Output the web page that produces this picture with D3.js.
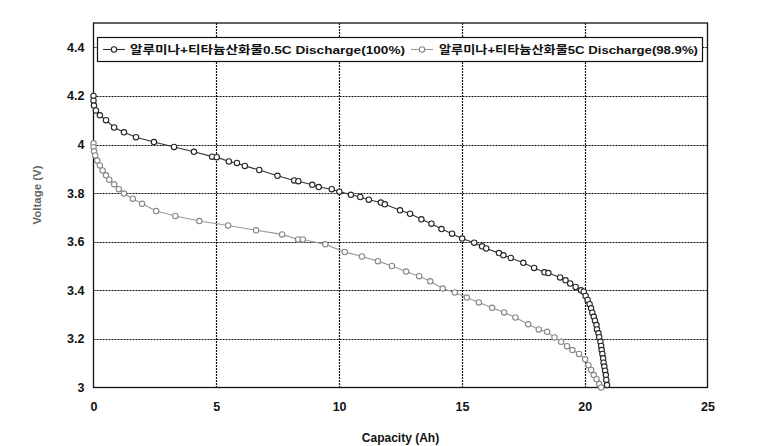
<!DOCTYPE html>
<html><head><meta charset="utf-8">
<script src="https://cdn.jsdelivr.net/npm/d3@7"></script>
<style>
html,body{margin:0;padding:0;background:#fff;}
text{font-family:"Liberation Sans",Arial,"Noto Sans CJK KR",sans-serif;}
</style></head>
<body><svg id="c" width="771" height="446"></svg>
<script>
// ---- data ----
const seriesNames = ["알루미나+티타늄산화물0.5C Discharge(100%)", "알루미나+티타늄산화물5C Discharge(98.9%)"];
const xTicks = [0, 5, 10, 15, 20, 25];
const yTicks = [3, 3.2, 3.4, 3.6, 3.8, 4, 4.2, 4.4];
const yTickLabels = ["3", "3.2", "3.4", "3.6", "3.8", "4", "4.2", "4.4"];
// 0.5C discharge: capacity (Ah)
const cap05 = [0,0,0.02,0.10,0.26,0.51,0.84,1.24,1.73,2.46,3.28,4.09,4.83,5.02,5.51,5.84,6.16,6.75,7.49,8.17,8.34,8.91,9.17,9.70,10.01,10.48,10.86,11.21,11.70,11.86,12.48,12.89,13.35,13.76,14.17,14.60,15.01,15.50,15.82,15.99,16.51,16.69,16.99,17.50,17.94,18.36,18.52,19.00,19.22,19.41,19.63,19.85,19.96,20.04,20.12,20.20,20.26,20.31,20.37,20.42,20.48,20.50,20.56,20.59,20.64,20.67,20.69,20.72,20.75,20.77,20.80,20.83,20.86,20.88,20.91];
// 0.5C discharge: voltage (V)
const volt05 = [4.20,4.18,4.16,4.14,4.12,4.10,4.07,4.05,4.03,4.01,3.99,3.97,3.95,3.948,3.93,3.924,3.912,3.895,3.871,3.852,3.849,3.834,3.825,3.816,3.806,3.793,3.784,3.773,3.761,3.754,3.729,3.715,3.692,3.674,3.652,3.633,3.613,3.596,3.581,3.572,3.553,3.544,3.533,3.513,3.492,3.474,3.471,3.453,3.441,3.428,3.414,3.400,3.394,3.377,3.360,3.343,3.326,3.308,3.291,3.275,3.257,3.239,3.223,3.207,3.188,3.171,3.154,3.138,3.120,3.102,3.086,3.069,3.051,3.031,3.010];
// 5C discharge: capacity (Ah)
const cap5 = [0,0,0.02,0.07,0.15,0.26,0.37,0.51,0.64,0.84,1.03,1.24,1.60,1.98,2.55,3.33,4.31,5.48,6.62,7.68,8.33,8.52,9.44,10.23,10.93,11.58,12.15,12.73,13.26,13.71,14.22,14.71,15.20,15.69,16.23,16.72,17.18,17.70,18.13,18.47,18.77,19.04,19.28,19.50,19.77,20.02,20.15,20.26,20.37,20.48,20.59,20.67];
// 5C discharge: voltage (V)
const volt5 = [4.005,3.989,3.972,3.955,3.934,3.914,3.893,3.873,3.855,3.836,3.816,3.798,3.777,3.756,3.726,3.706,3.685,3.667,3.647,3.630,3.609,3.609,3.589,3.558,3.539,3.520,3.500,3.477,3.458,3.437,3.407,3.391,3.370,3.350,3.328,3.309,3.288,3.260,3.239,3.229,3.206,3.188,3.170,3.154,3.138,3.116,3.092,3.072,3.051,3.034,3.014,3.0];

// ---- chart ----
const svg = d3.select("#c");
const L = 93.5, R = 707.5, T = 23, B = 387.5;
const x = d3.scaleLinear().domain([0, 25]).range([L, R]);
const y = d3.scaleLinear().domain([3, 4.5]).range([B, T]);

const series = [
  {name: seriesNames[0], pts: cap05.map((c,i)=>[c, volt05[i]]), stroke: "#262626", line: "#333"},
  {name: seriesNames[1], pts: cap5.map((c,i)=>[c, volt5[i]]), stroke: "#888", line: "#999"}
];

// gridlines
svg.append("g").selectAll("line.h").data(yTicks.filter(v=>v>3)).join("line")
  .attr("x1", L).attr("x2", R).attr("y1", d=>Math.round(y(d))+0.5).attr("y2", d=>Math.round(y(d))+0.5)
  .attr("stroke", "#111").attr("stroke-width", 1.2).attr("stroke-dasharray", "2,1");
svg.append("g").selectAll("line.v").data(xTicks.filter(v=>v>0 && v<25)).join("line")
  .attr("y1", T).attr("y2", B).attr("x1", d=>Math.round(x(d))+0.5).attr("x2", d=>Math.round(x(d))+0.5)
  .attr("stroke", "#111").attr("stroke-width", 1.2).attr("stroke-dasharray", "2,1");

// frame
svg.append("rect").attr("x", L).attr("y", T).attr("width", R-L).attr("height", B-T)
  .attr("fill", "none").attr("stroke", "#111").attr("stroke-width", 1.3);

// axes (labels only)
const xAxis = d3.axisBottom(x).tickValues(xTicks).tickSize(0).tickPadding(15).tickFormat(d3.format("d"));
const gx = svg.append("g").attr("transform", `translate(0,${B})`).call(xAxis);
gx.select(".domain").remove();
gx.selectAll("text").attr("font-size", 12.5).attr("font-weight", "bold").attr("fill", "#111")
  .attr("font-family", "'Liberation Sans', Arial, sans-serif");
const yAxis = d3.axisLeft(y).tickValues(yTicks).tickSize(0).tickPadding(9).tickFormat((d,i)=>yTickLabels[i]);
const gy = svg.append("g").attr("transform", `translate(${L},0)`).call(yAxis);
gy.select(".domain").remove();
gy.selectAll("text").attr("font-size", 12.5).attr("font-weight", "bold").attr("fill", "#111")
  .attr("font-family", "'Liberation Sans', Arial, sans-serif");

// lines + markers
const lineGen = d3.line().x(d=>x(d[0])).y(d=>y(d[1]));
series.forEach(s => {
  svg.append("path").datum(s.pts).attr("d", lineGen).attr("fill", "none")
    .attr("stroke", s.line).attr("stroke-width", 1.1);
  svg.append("g").selectAll("circle").data(s.pts).join("circle")
    .attr("cx", d=>x(d[0])).attr("cy", d=>y(d[1])).attr("r", 2.7)
    .attr("fill", "#fff").attr("stroke", s.stroke).attr("stroke-width", 1.1);
});

// legend
const lg = svg.append("g");
lg.append("rect").attr("x", 97.5).attr("y", 37.5).attr("width", 605).attr("height", 24)
  .attr("fill", "#fff").attr("stroke", "#111").attr("stroke-width", 1.2);
const legItems = [
  {s: series[0], x0: 103, tx: 130, w: 275},
  {s: series[1], x0: 411, tx: 439, w: 259}
];
legItems.forEach(it => {
  lg.append("line").attr("x1", it.x0).attr("x2", it.x0+22).attr("y1", 49.5).attr("y2", 49.5)
    .attr("stroke", it.s.line).attr("stroke-width", 1.1);
  lg.append("circle").attr("cx", it.x0+11).attr("cy", 49.5).attr("r", 2.7)
    .attr("fill", "#fff").attr("stroke", it.s.stroke).attr("stroke-width", 1.1);
  lg.append("text").attr("x", it.tx).attr("y", 54).attr("font-size", 11.5).attr("font-weight", "bold")
    .attr("fill", "#111").attr("textLength", it.w).attr("lengthAdjust", "spacingAndGlyphs")
    .text(it.s.name);
});

// axis titles
svg.append("text").attr("x", (L+R)/2).attr("y", 442).attr("text-anchor", "middle")
  .attr("font-size", 12).attr("font-weight", "bold").attr("fill", "#111").text("Capacity (Ah)");
svg.append("text").attr("transform", "translate(41,195) rotate(-90)").attr("text-anchor", "middle")
  .attr("font-size", 11.5).attr("font-weight", "bold").attr("fill", "#666").text("Voltage (V)");
</script></body></html>
